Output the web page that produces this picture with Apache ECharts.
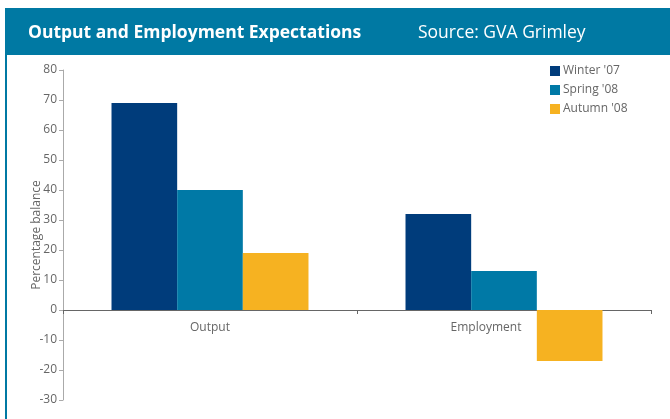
<!DOCTYPE html>
<html><head><meta charset="utf-8">
<script src="https://cdn.jsdelivr.net/npm/echarts@6/dist/echarts.min.js"></script>
<style>html,body{margin:0;padding:0;background:#fff}#c{width:670px;height:419px}</style>
</head><body><div id="c"></div>
<script>
const categories = ['Output', 'Employment'];
const seriesNames = ["Winter '07", "Spring '08", "Autumn '08"];
const winter07 = [69, 32];
const spring08 = [40, 13];
const autumn08 = [19, -17];
const colors = ['#003C7B', '#0079A6', '#F6B221'];

const chart = echarts.init(document.getElementById('c'), null, {renderer: 'canvas'});
const font = 'Open Sans';
chart.setOption({
  animation: false,
  graphic: [
    {type: 'rect', shape: {x: 5, y: 8, width: 665, height: 47}, style: {fill: '#0079A3'}},
    {type: 'rect', shape: {x: 5, y: 55, width: 2, height: 364}, style: {fill: '#0079A3'}}
  ],
  title: [
    {text: 'Output and Employment Expectations', left: 23, top: 19,
     textStyle: {color: '#fff', fontSize: 17.5, fontWeight: 'bold', fontFamily: font}},
    {text: 'Source: GVA Grimley', left: 413, top: 19,
     textStyle: {color: '#fff', fontSize: 17.5, fontWeight: 'normal', fontFamily: font}}
  ],
  legend: {
    orient: 'vertical', left: 545, top: 60, itemWidth: 10, itemHeight: 10, itemGap: 7,
    icon: 'rect', data: seriesNames,
    textStyle: {color: '#666', fontSize: 12, fontFamily: font, padding: [0, 0, 0, -2]}
  },
  grid: {left: 63, right: 19, top: 70, bottom: 19, outerBoundsMode: 'none', containLabel: false},
  xAxis: {
    type: 'category', offset: -90,
    data: [categories[0], {value: categories[1], textStyle: {padding: [0, 36, 0, 0]}}],
    axisLine: {onZero: false, lineStyle: {color: '#666', width: 1}},
    axisTick: {show: true, alignWithLabel: false, length: 4, lineStyle: {color: '#666'}},
    axisLabel: {color: '#666', fontSize: 12, fontFamily: font, margin: 12}
  },
  yAxis: {
    type: 'value', min: -30, max: 80, interval: 10,
    name: 'Percentage balance', nameLocation: 'middle', nameGap: 20, nameMoveOverlap: false,
    nameTextStyle: {color: '#666', fontSize: 12, fontFamily: font},
    axisLine: {show: true, lineStyle: {color: '#aaa'}},
    axisTick: {show: true, length: 4, lineStyle: {color: '#aaa'}},
    axisLabel: {color: '#666', fontSize: 12, fontFamily: font, margin: 6},
    splitLine: {show: false}
  },
  series: [
    {name: seriesNames[0], type: 'bar', data: winter07, itemStyle: {color: colors[0]}, barGap: '0%', barCategoryGap: '33%'},
    {name: seriesNames[1], type: 'bar', data: spring08, itemStyle: {color: colors[1]}, barGap: '0%', barCategoryGap: '33%'},
    {name: seriesNames[2], type: 'bar', data: autumn08, itemStyle: {color: colors[2]}, barGap: '0%', barCategoryGap: '33%'}
  ]
});
</script></body></html>
